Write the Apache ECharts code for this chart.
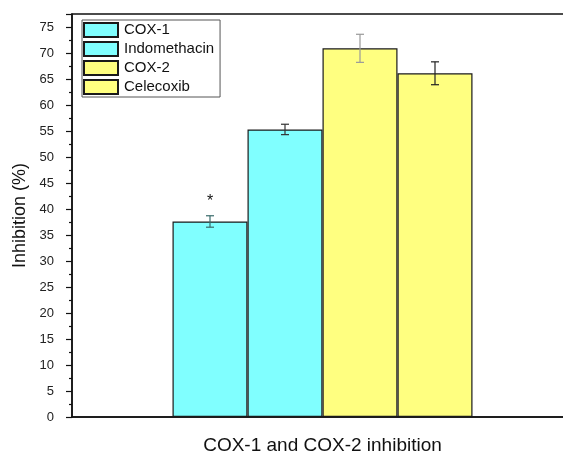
<!DOCTYPE html>
<html><head><meta charset="utf-8">
<script src="https://cdn.jsdelivr.net/npm/echarts@6/dist/echarts.min.js"></script>
<style>html,body{margin:0;padding:0;background:#fff}#c{width:563px;height:454px}</style>
</head><body><div id="c"></div>
<script>
const categories = ['COX-1 and COX-2 inhibition'];
const seriesNames = ['COX-1', 'Indomethacin', 'COX-2', 'Celecoxib'];
const values = [37.6, 55.3, 70.9, 66.1];
const errors = [1.1, 1.0, 2.7, 2.2];
const colors = ['#80FFFF', '#80FFFF', '#FFFF80', '#FFFF80'];
const errColors = ['#3a6a6a', '#333333', '#999999', '#222222'];
const marks = ['*', '', '', ''];
const yTicks = [0, 5, 10, 15, 20, 25, 30, 35, 40, 45, 50, 55, 60, 65, 70, 75];

const BAR_W = 75;
const chart = echarts.init(document.getElementById('c'), null, {renderer: 'canvas'});
const font = 'Liberation Sans, Arial, sans-serif';

const barSeries = seriesNames.map((n, i) => ({
  name: n, type: 'bar', barWidth: BAR_W, barGap: '0%',
  itemStyle: {color: colors[i], borderColor: '#1a1a1a', borderWidth: 1.2},
  data: [{value: values[i], label: {show: !!marks[i], position: 'top', distance: 12,
    formatter: marks[i], fontSize: 16, color: '#111', fontFamily: font}}],
  z: 2
}));

const errSeries = {
  type: 'custom', z: 5, silent: true,
  data: values.map((v, i) => [0, v, errors[i], i]),
  renderItem: function (params, api) {
    const v = api.value(1), e = api.value(2), i = api.value(3);
    const c = api.coord([0, v]);
    const x = c[0] + (i - 1.5) * BAR_W;
    const yt = api.coord([0, v + e])[1], yb = api.coord([0, v - e])[1];
    const st = {stroke: errColors[i], lineWidth: 1.2};
    const h = 4;
    return {type: 'group', children: [
      {type: 'line', shape: {x1: x, y1: yt, x2: x, y2: yb}, style: st},
      {type: 'line', shape: {x1: x - h, y1: yt, x2: x + h, y2: yt}, style: st},
      {type: 'line', shape: {x1: x - h, y1: yb, x2: x + h, y2: yb}, style: st}
    ]};
  }
};

chart.setOption({
  animation: false,
  backgroundColor: '#fff',
  grid: {left: 72, right: -10, top: 14, bottom: 37, show: true, borderColor: '#111', borderWidth: 1.5,
    backgroundColor: 'transparent', containLabel: false, outerBoundsMode: 'none'},
  legend: {
    data: seriesNames, orient: 'vertical', left: 82, top: 20,
    icon: 'rect', itemWidth: 34, itemHeight: 14, itemGap: 3,
    borderColor: '#555', borderWidth: 1, padding: [2, 6, 2, 1],
    textStyle: {fontSize: 15, color: '#111', fontFamily: font, padding: [0, 0, 0, 1]},
    selectedMode: false
  },
  xAxis: {
    type: 'category', data: categories,
    name: categories[0], nameLocation: 'middle', nameGap: 19,
    nameTextStyle: {fontSize: 19, color: '#111', fontFamily: font},
    axisLine: {lineStyle: {color: '#111', width: 1.5}},
    axisTick: {alignWithLabel: true, length: 8, lineStyle: {color: '#111', width: 1.2}},
    axisLabel: {show: false}
  },
  yAxis: {
    type: 'value', min: 0, max: 77.5, interval: 5,
    name: 'Inhibition (%)', nameLocation: 'middle', nameGap: 40,
    nameTextStyle: {fontSize: 18, color: '#111', fontFamily: font},
    axisLine: {show: true, lineStyle: {color: '#111', width: 1.5}},
    axisTick: {show: true, length: 6, lineStyle: {color: '#111', width: 1.2}},
    minorTick: {show: true, splitNumber: 2, length: 3, lineStyle: {color: '#111', width: 1.2}},
    splitLine: {show: false},
    axisLabel: {margin: 18, fontSize: 13, color: '#222', fontFamily: font, showMaxLabel: false,
      formatter: v => yTicks.includes(v) ? String(v) : ''}
  },
  series: barSeries.concat([errSeries])
});
</script></body></html>
